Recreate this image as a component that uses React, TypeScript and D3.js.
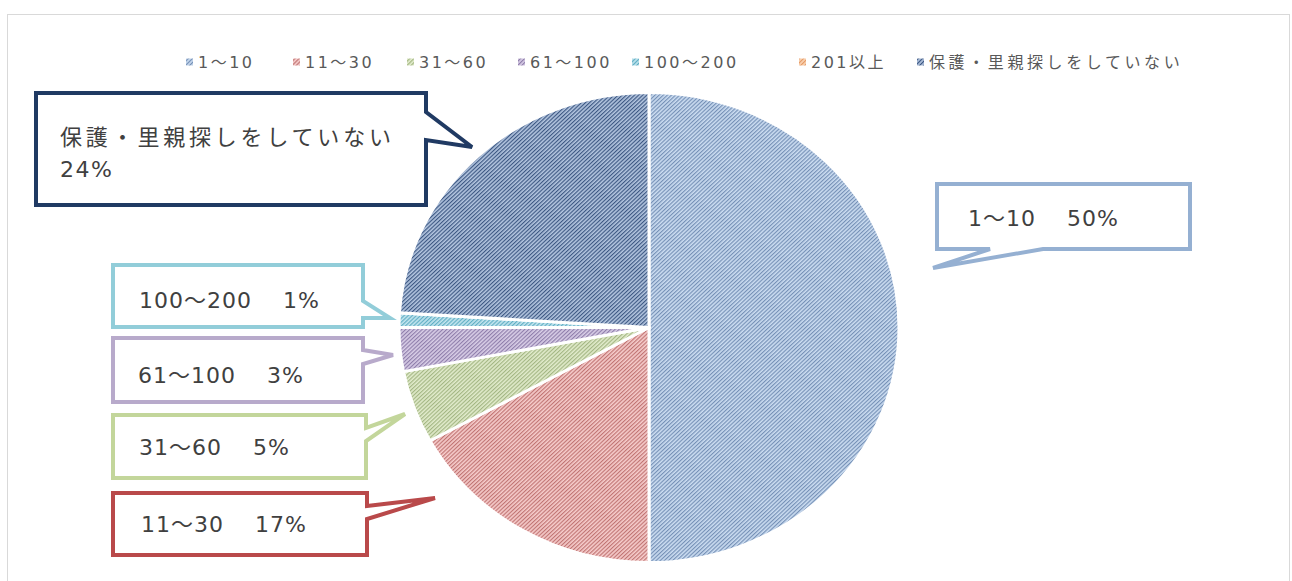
import React from "react";
import * as d3 from "d3";

// categories and their shares (%)
const categories = [
  "1～10",
  "11～30",
  "31～60",
  "61～100",
  "100～200",
  "201以上",
  "保護・里親探しをしていない",
];
const percents = [50, 17, 5, 3, 1, 0, 24];

// pattern colours: background tint + diagonal stripe
const backColors = ["#cbdcf1", "#f6cccb", "#e1ebcb", "#d8cde6", "#c2e5ee", "#fbd5b5", "#b3c5df"];
const stripeColors = ["#7590b6", "#c07473", "#a3b683", "#8f7eab", "#60aec4", "#e59a66", "#3d5883"];
const calloutColors = ["#95b0d2", "#b9494a", "#c3d69b", "#b8aacb", "#92cdd9", "#f0b080", "#203a63"];

// legend layout (x of marker)
const legendMarkerX = [186, 293, 407, 518, 632, 799, 917];

// callout boxes: [x0, y0, x1, y1], tail on the given side, tip point
type Callout = { box: [number, number, number, number]; side: "right" | "bottom"; a: number; b: number; tip: [number, number]; tx: number; ty: number };
const callouts: Record<string, Callout> = {
  "1～10": { box: [937, 184, 1190, 249], side: "bottom", a: 990, b: 1043, tip: [933, 268], tx: 968, ty: 226 },
  "11～30": { box: [113, 493, 367, 555], side: "right", a: 506, b: 519, tip: [435, 498], tx: 141, ty: 532 },
  "31～60": { box: [113, 415, 366, 478], side: "right", a: 428, b: 441, tip: [405, 414], tx: 139, ty: 455 },
  "61～100": { box: [113, 338, 363, 402], side: "right", a: 350, b: 364, tip: [393, 355], tx: 138, ty: 383 },
  "100～200": { box: [113, 265, 363, 327], side: "right", a: 301, b: 318, tip: [390, 318], tx: 139, ty: 308 },
  "保護・里親探しをしていない": { box: [36, 93, 426, 205], side: "right", a: 112, b: 140, tip: [472, 147], tx: 60, ty: 145 },
};

function calloutPath(c: Callout) {
  const [x0, y0, x1, y1] = c.box;
  if (c.side === "right") {
    return `M${x0},${y0}H${x1}V${c.a}L${c.tip[0]},${c.tip[1]}L${x1},${c.b}V${y1}H${x0}Z`;
  }
  return `M${x0},${y0}H${x1}V${y1}H${c.b}L${c.tip[0]},${c.tip[1]}L${c.a},${y1}H${x0}Z`;
}

const FONT = "'DejaVu Sans', 'Noto Sans CJK JP', sans-serif";

export default function App() {
  const width = 1292;
  const height = 581;
  const cx = 649;
  const cy = 327.5;
  const radius = 250;

  const data = categories.map((c, i) => ({ cat: c, value: percents[i], i }));
  const pie = d3
    .pie<{ cat: string; value: number; i: number }>()
    .sort(null)
    .value((d) => d.value);
  const arc = d3.arc<d3.PieArcDatum<{ cat: string; value: number; i: number }>>().innerRadius(0).outerRadius(radius);
  const arcs = pie(data);

  return (
    <svg
      width={width}
      height={height}
      style={{ position: "absolute", left: 0, top: 0, background: "#fff" }}
      fontFamily={FONT}
    >
      <defs>
        {categories.map((c, i) => (
          <pattern
            key={c}
            id={`pat${i}`}
            patternUnits="userSpaceOnUse"
            width={2.9}
            height={2.9}
            patternTransform="rotate(45)"
          >
            <rect width={2.9} height={2.9} fill={backColors[i]} />
            <line x1={0.6} y1={0} x2={0.6} y2={2.9} stroke={stripeColors[i]} strokeWidth={1.2} />
          </pattern>
        ))}
      </defs>

      {/* chart frame */}
      <rect x={7.5} y={14.5} width={1282} height={580} fill="#fff" stroke="#d9d9d9" strokeWidth={1} />

      {/* legend */}
      <g fontSize={16} fill="#595959" letterSpacing={2.5}>
        {categories.map((c, i) => (
          <g key={c}>
            <rect x={legendMarkerX[i]} y={58.5} width={7} height={7} fill={`url(#pat${i})`} />
            <text x={legendMarkerX[i] + 12} y={68} letterSpacing={i === 6 ? 3.6 : 2.5}>
              {c}
            </text>
          </g>
        ))}
      </g>

      {/* pie */}
      <g transform={`translate(${cx},${cy}) scale(1,0.94)`}>
        {arcs.map((a) => (
          <path
            key={a.data.cat}
            d={arc(a) || ""}
            fill={`url(#pat${a.data.i})`}
            stroke="#fff"
            strokeWidth={3}
            strokeLinejoin="round"
          />
        ))}
      </g>

      {/* data callouts */}
      {data
        .filter((d) => callouts[d.cat])
        .map((d) => {
          const c = callouts[d.cat];
          const twoLine = d.cat.length > 8;
          return (
            <g key={d.cat}>
              <path
                d={calloutPath(c)}
                fill="#fff"
                stroke={calloutColors[d.i]}
                strokeWidth={4}
                strokeLinejoin="miter"
              />
              {twoLine ? (
                <text x={c.tx} y={c.ty} fontSize={22} fill="#404040">
                  <tspan x={c.tx} letterSpacing={3.8}>{d.cat}</tspan>
                  <tspan x={c.tx} dy={32} letterSpacing={1.5}>{`${d.value}%`}</tspan>
                </text>
              ) : (
                <text x={c.tx} y={c.ty} fontSize={22} fill="#404040" letterSpacing={1}>
                  <tspan>{d.cat}</tspan>
                  <tspan dx={31}>{`${d.value}%`}</tspan>
                </text>
              )}
            </g>
          );
        })}
    </svg>
  );
}
